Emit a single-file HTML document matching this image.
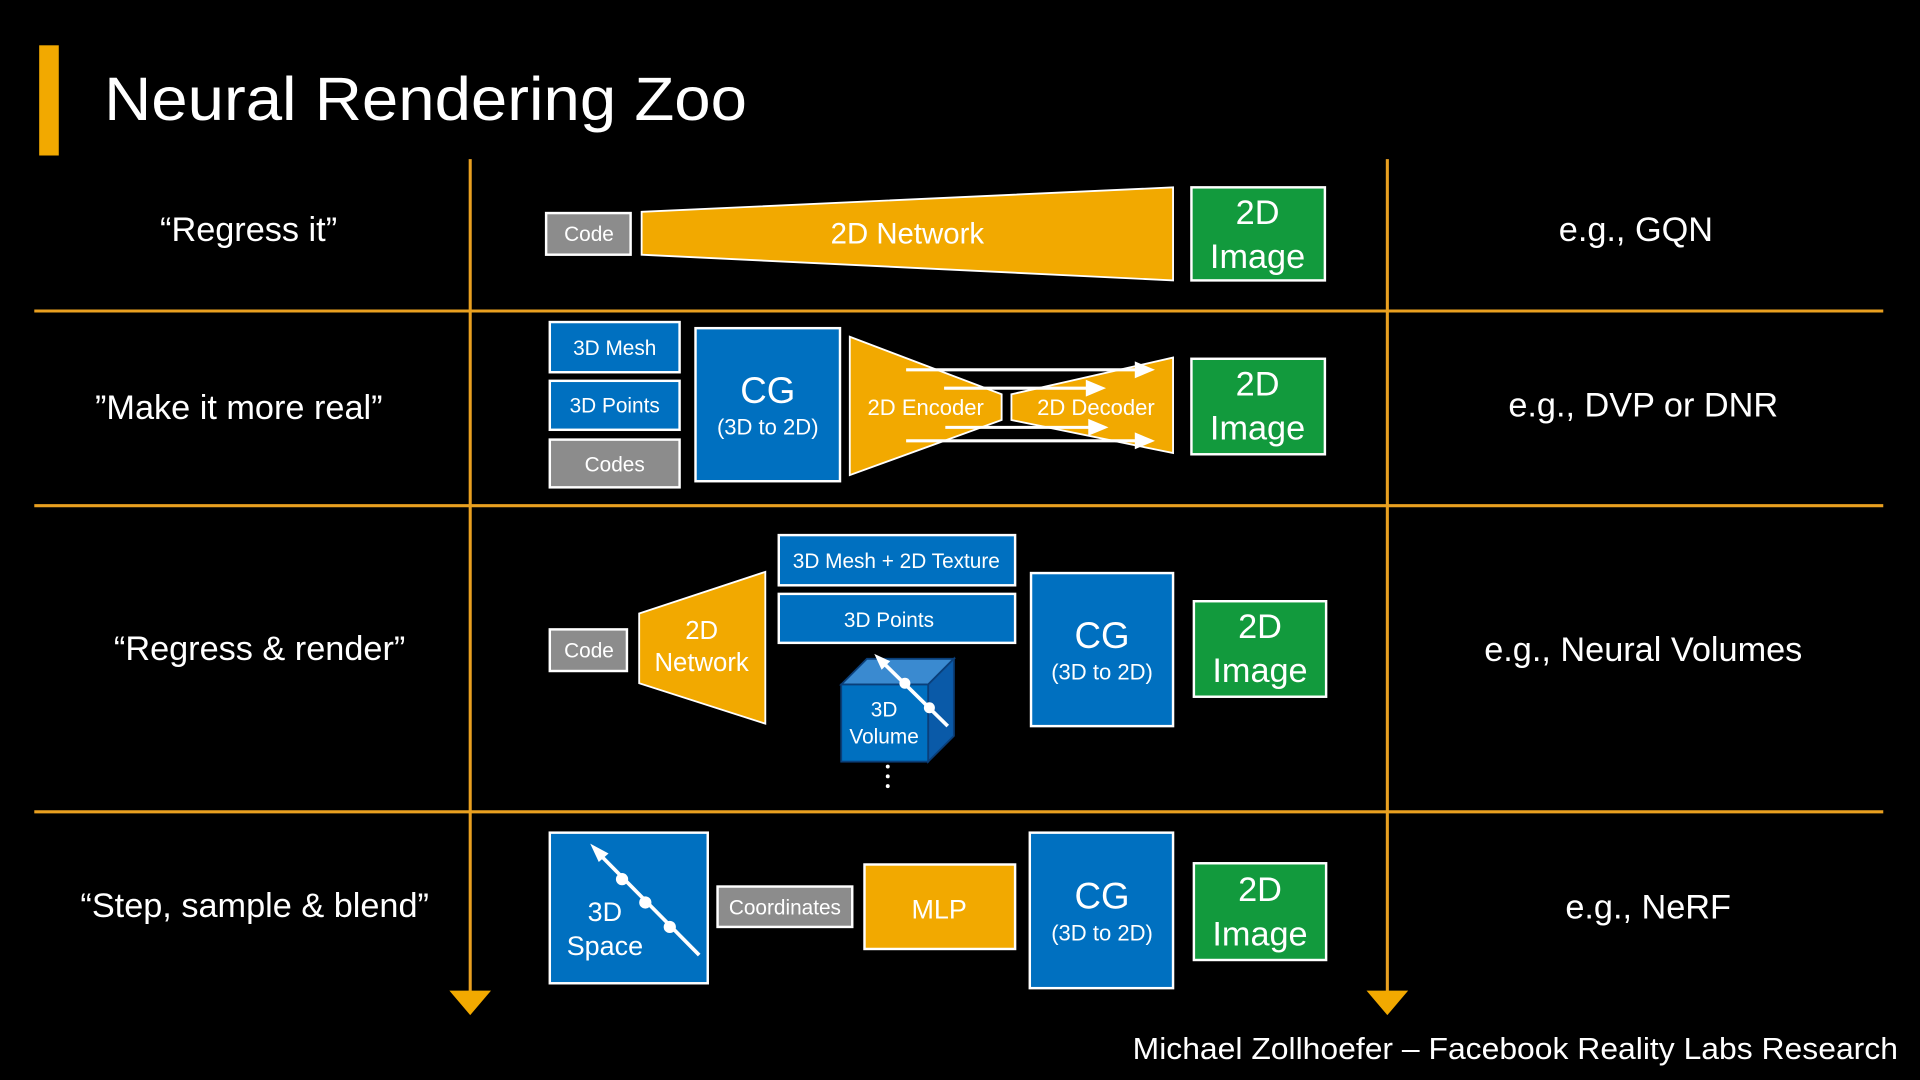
<!DOCTYPE html>
<html><head><meta charset="utf-8"><style>
html,body{margin:0;padding:0;background:#000;}
svg{display:block;}
text{font-family:"Liberation Sans",sans-serif;fill:#fff;}
</style></head><body>
<svg width="1920" height="1080" viewBox="0 0 1568 882" xmlns="http://www.w3.org/2000/svg">
<rect width="1568" height="882" fill="#000"/>
<rect x="32" y="37" width="16" height="90" fill="#f2a900"/>
<text x="85" y="98" font-size="50" textLength="525" lengthAdjust="spacingAndGlyphs">Neural Rendering Zoo</text>

<g stroke="#e9a020" stroke-width="2.5">
<line x1="384" y1="130" x2="384" y2="812"/>
<line x1="1133" y1="130" x2="1133" y2="812"/>
<line x1="28" y1="254" x2="1538" y2="254"/>
<line x1="28" y1="413" x2="1538" y2="413"/>
<line x1="28" y1="663" x2="1538" y2="663"/>
</g>
<polygon points="367,809 401,809 384,829" fill="#f2a900"/>
<polygon points="1116,809 1150,809 1133,829" fill="#f2a900"/>

<g font-size="28" text-anchor="middle">
<text x="203" y="197">“Regress it”</text>
<text x="195" y="342">”Make it more real”</text>
<text x="212" y="539">“Regress &amp; render”</text>
<text x="208" y="749">“Step, sample &amp; blend”</text>
<text x="1336" y="197">e.g., GQN</text>
<text x="1342" y="340">e.g., DVP or DNR</text>
<text x="1342" y="540">e.g., Neural Volumes</text>
<text x="1346" y="750">e.g., NeRF</text>
</g>

<g stroke="#fff" stroke-width="2">
<!-- row1 -->
<rect x="446" y="174" width="69" height="34" fill="#8c8c8c"/>
<polygon points="524,173 958,153 958,229 524,208" fill="#f2a900" stroke-width="1.5"/>
<rect x="973" y="153" width="109" height="76" fill="#129a3d"/>
<!-- row2 -->
<rect x="449" y="263" width="106" height="41" fill="#0070c0"/>
<rect x="449" y="311" width="106" height="40" fill="#0070c0"/>
<rect x="449" y="359" width="106" height="39" fill="#8c8c8c"/>
<rect x="568" y="268" width="118" height="125" fill="#0070c0"/>
<polygon points="694,275 818,322 818,343 694,388" fill="#f2a900" stroke-width="1.5"/>
<polygon points="826,322 958,292 958,370 826,343" fill="#f2a900" stroke-width="1.5"/>
<rect x="973" y="293" width="109" height="78" fill="#129a3d"/>
<!-- row3 -->
<rect x="449" y="514" width="63" height="34" fill="#8c8c8c"/>
<polygon points="522,501 625,467 625,591 522,558" fill="#f2a900" stroke-width="1.5"/>
<rect x="636" y="437" width="193" height="41" fill="#0070c0"/>
<rect x="636" y="485" width="193" height="40" fill="#0070c0"/>
<rect x="842" y="468" width="116" height="125" fill="#0070c0"/>
<rect x="975" y="491" width="108" height="78" fill="#129a3d"/>
<!-- row4 -->
<rect x="449" y="680" width="129" height="123" fill="#0070c0"/>
<rect x="586" y="724" width="110" height="33" fill="#8c8c8c"/>
<rect x="706" y="706" width="123" height="69" fill="#f2a900"/>
<rect x="841" y="680" width="117" height="127" fill="#0070c0"/>
<rect x="975" y="705" width="108" height="79" fill="#129a3d"/>
</g>

<!-- encoder/decoder skip arrows -->
<g stroke="#fff" stroke-width="2.5" fill="#fff">
<line x1="740" y1="302" x2="932" y2="302"/><polygon points="940,302 928,297 928,307"/>
<line x1="771" y1="317" x2="892" y2="317"/><polygon points="900,317 888,312 888,322"/>
<line x1="772" y1="349" x2="894" y2="349"/><polygon points="902,349 890,344 890,354"/>
<line x1="740" y1="360" x2="932" y2="360"/><polygon points="940,360 928,355 928,365"/>
</g>

<!-- cube -->
<polygon points="687,559 708,538 779,538 758,559" fill="#3a8ad0" stroke="#0a3f7a" stroke-width="1.5"/>
<polygon points="758,559 779,538 779,601 758,622" fill="#0a5aa8" stroke="#0a3f7a" stroke-width="1.5"/>
<rect x="687" y="559" width="71" height="63" fill="#0070c0" stroke="#0a3f7a" stroke-width="1.5"/>
<line x1="718" y1="538" x2="774" y2="593" stroke="#fff" stroke-width="3"/>
<polygon points="714,534 727,540 720,547" fill="#fff"/>
<circle cx="739" cy="558" r="4.5" fill="#fff"/><circle cx="759" cy="578" r="4.5" fill="#fff"/>
<circle cx="725" cy="626" r="1.6" fill="#fff"/><circle cx="725" cy="634" r="1.6" fill="#fff"/><circle cx="725" cy="642" r="1.6" fill="#fff"/>

<!-- 3D space arrow -->
<line x1="487" y1="695" x2="571" y2="780" stroke="#fff" stroke-width="3"/>
<polygon points="482,689 497,697 489,704" fill="#fff"/>
<circle cx="508" cy="718" r="5" fill="#fff"/><circle cx="527" cy="737" r="5" fill="#fff"/><circle cx="547" cy="757" r="5" fill="#fff"/>

<g text-anchor="middle">
<text x="481" y="197" font-size="17">Code</text>
<text x="741" y="199" font-size="24">2D Network</text>
<text x="1027" y="183" font-size="28">2D</text><text x="1027" y="219" font-size="28">Image</text>

<text x="502" y="290" font-size="17">3D Mesh</text>
<text x="502" y="337" font-size="17">3D Points</text>
<text x="502" y="385" font-size="17">Codes</text>
<text x="627" y="329" font-size="30">CG</text>
<text x="627" y="355" font-size="18">(3D to 2D)</text>
<text x="756" y="339" font-size="18">2D Encoder</text>
<text x="895" y="339" font-size="18">2D Decoder</text>
<text x="1027" y="323" font-size="28">2D</text><text x="1027" y="359" font-size="28">Image</text>

<text x="481" y="537" font-size="17">Code</text>
<text x="573" y="522" font-size="21">2D</text><text x="573" y="548" font-size="21">Network</text>
<text x="732" y="464" font-size="17">3D Mesh + 2D Texture</text>
<text x="726" y="512" font-size="17">3D Points</text>
<text x="722" y="585" font-size="17">3D</text><text x="722" y="607" font-size="17">Volume</text>
<text x="900" y="529" font-size="30">CG</text>
<text x="900" y="555" font-size="18">(3D to 2D)</text>
<text x="1029" y="521" font-size="28">2D</text><text x="1029" y="557" font-size="28">Image</text>

<text x="494" y="752" font-size="22">3D</text><text x="494" y="780" font-size="22">Space</text>
<text x="641" y="747" font-size="17">Coordinates</text>
<text x="767" y="750" font-size="22">MLP</text>
<text x="900" y="742" font-size="30">CG</text>
<text x="900" y="768" font-size="18">(3D to 2D)</text>
<text x="1029" y="736" font-size="28">2D</text><text x="1029" y="772" font-size="28">Image</text>
</g>

<text x="1550" y="865" font-size="25" text-anchor="end" textLength="625" lengthAdjust="spacingAndGlyphs">Michael Zollhoefer – Facebook Reality Labs Research</text>
</svg>
</body></html>
